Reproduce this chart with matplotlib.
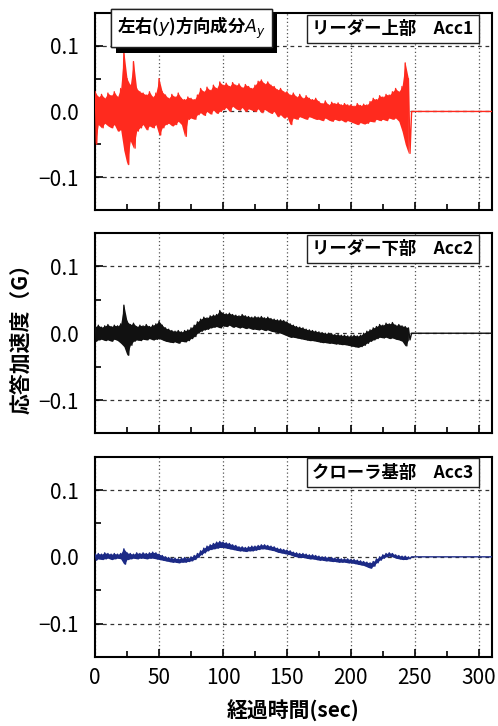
import numpy as np
import matplotlib
matplotlib.use('Agg')
import matplotlib.pyplot as plt
import matplotlib.patheffects as pe

plt.rcParams['font.family'] = ['Noto Sans CJK JP', 'DejaVu Sans']
plt.rcParams['mathtext.fontset'] = 'dejavusans'

# sampling grid (sec) of the envelope readings, 2.5 s steps from 0 to 245
t = np.arange(0, 245.1, 2.5)
tail_t = [247.5, 310]
tail_v = [0.0, 0.0]

# Acc1 (リーダー上部): upper / lower envelope
acc1_hi = [0.03, 0.022, 0.026, 0.02, 0.028, 0.024, 0.03, 0.022, 0.035, 0.091,
           0.05, 0.04, 0.076, 0.035, 0.03, 0.028, 0.025, 0.03, 0.022, 0.028,
           0.05, 0.03, 0.025, 0.02, 0.026, 0.022, 0.028, 0.02, 0.018, 0.022,
           0.02, 0.018, 0.025, 0.035, 0.03, 0.037, 0.032, 0.04, 0.035, 0.045,
           0.04, 0.043, 0.038, 0.044, 0.04, 0.042, 0.036, 0.041, 0.038, 0.035,
           0.04, 0.046, 0.048, 0.042, 0.045, 0.04, 0.038, 0.033, 0.035, 0.03,
           0.03, 0.025, 0.028, 0.022, 0.026, 0.02, 0.024, 0.02, 0.018, 0.02,
           0.015, 0.012, 0.016, 0.01, 0.014, 0.012, 0.013, 0.01, 0.012, 0.01,
           0.01, 0.008, 0.012, 0.009, 0.011, 0.01, 0.015, 0.02, 0.018, 0.024,
           0.022, 0.026, 0.025, 0.03, 0.035, 0.03, 0.038, 0.074, 0.05]
acc1_lo = [-0.05, -0.02, -0.025, -0.018, -0.022, -0.025, -0.02, -0.03, -0.028, -0.06,
           -0.081, -0.045, -0.056, -0.03, -0.025, -0.02, -0.028, -0.022, -0.025, -0.02,
           -0.036, -0.025, -0.02, -0.018, -0.022, -0.02, -0.015, -0.02, -0.038, -0.012,
           -0.01, -0.012, -0.005, -0.002, -0.006, 0.0, -0.004, 0.002, -0.003, 0.0,
           0.003, 0.006, 0.0, 0.008, 0.004, 0.002, 0.006, 0.0, 0.004, 0.002,
           0.0, 0.004, -0.002, 0.003, 0.0, -0.003, 0.0, -0.008, -0.005, -0.01,
           -0.008, -0.02, -0.01, -0.012, -0.008, -0.01, -0.012, -0.008, -0.01, -0.012,
           -0.012, -0.014, -0.01, -0.013, -0.015, -0.012, -0.014, -0.013, -0.016, -0.014,
           -0.016, -0.018, -0.02, -0.017, -0.019, -0.018, -0.015, -0.016, -0.012, -0.014,
           -0.012, -0.014, -0.01, -0.012, -0.01, -0.015, -0.03, -0.05, -0.064]

# Acc2 (リーダー下部)
acc2_hi = [0.01, 0.012, 0.009, 0.011, 0.013, 0.01, 0.012, 0.011, 0.014, 0.042,
           0.018, 0.013, 0.015, 0.01, 0.012, 0.011, 0.013, 0.01, 0.012, 0.014,
           0.018, 0.012, 0.008, 0.006, 0.004, 0.003, 0.004, 0.002, 0.004, 0.005,
           0.008, 0.012, 0.017, 0.021, 0.024, 0.023, 0.026, 0.027, 0.028, 0.034,
           0.03, 0.029, 0.03, 0.028, 0.027, 0.026, 0.028, 0.026, 0.025, 0.024,
           0.025, 0.024, 0.025, 0.023, 0.024, 0.022, 0.021, 0.02, 0.02, 0.019,
           0.017, 0.014, 0.012, 0.01, 0.009, 0.008, 0.006, 0.005, 0.004, 0.003,
           0.002, 0.001, 0.0, 0.0, -0.001, -0.002, -0.002, -0.003, -0.003, -0.004,
           -0.004, -0.003, -0.004, -0.003, 0.0, 0.003, 0.005, 0.008, 0.01, 0.013,
           0.012, 0.015, 0.014, 0.016, 0.012, 0.013, 0.011, 0.01, 0.008]
acc2_lo = [-0.012, -0.01, -0.009, -0.011, -0.01, -0.012, -0.009, -0.011, -0.015, -0.02,
           -0.033, -0.018, -0.012, -0.01, -0.011, -0.009, -0.01, -0.008, -0.01, -0.009,
           -0.008, -0.01, -0.012, -0.013, -0.014, -0.013, -0.015, -0.012, -0.013, -0.011,
           -0.008, -0.005, 0.0, 0.003, 0.005, 0.006, 0.008, 0.009, 0.01, 0.008,
           0.011, 0.01, 0.012, 0.009, 0.01, 0.008, 0.009, 0.007, 0.008, 0.006,
           0.006, 0.005, 0.006, 0.004, 0.005, 0.003, 0.002, 0.001, 0.0, -0.002,
           -0.004, -0.006, -0.006, -0.007, -0.008, -0.009, -0.01, -0.011, -0.011, -0.012,
           -0.013, -0.014, -0.014, -0.015, -0.015, -0.016, -0.016, -0.017, -0.017, -0.018,
           -0.019, -0.02, -0.021, -0.02, -0.018, -0.015, -0.012, -0.01, -0.008, -0.006,
           -0.007, -0.006, -0.008, -0.007, -0.009, -0.01, -0.012, -0.019, -0.01]

# Acc3 (クローラ基部)
acc3_hi = [0.004, 0.005, 0.004, 0.006, 0.005, 0.004, 0.005, 0.004, 0.005, 0.012,
           0.006, 0.005, 0.004, 0.006, 0.005, 0.006, 0.005, 0.006, 0.007, 0.006,
           0.004, 0.002, 0.0, -0.001, -0.002, -0.002, -0.003, -0.002, -0.001, -0.002,
           0.0, 0.002, 0.005, 0.009, 0.013, 0.016, 0.018, 0.02, 0.022, 0.023,
           0.022, 0.021, 0.02, 0.018, 0.017, 0.015, 0.015, 0.014, 0.015, 0.016,
           0.016, 0.017, 0.018, 0.018, 0.017, 0.016, 0.015, 0.013, 0.012, 0.011,
           0.01, 0.009, 0.007, 0.006, 0.005, 0.005, 0.004, 0.003, 0.003, 0.002,
           0.001, 0.0, 0.0, -0.001, -0.001, -0.002, -0.002, -0.003, -0.003, -0.003,
           -0.004, -0.004, -0.005, -0.006, -0.007, -0.008, -0.009, -0.007, -0.003, 0.0,
           0.003, 0.005, 0.006, 0.005, 0.003, 0.002, 0.001, 0.001, 0.0]
acc3_lo = [-0.005, -0.003, -0.004, -0.003, -0.002, -0.004, -0.003, -0.002, -0.003, -0.011,
           -0.004, -0.003, -0.002, -0.003, -0.002, -0.002, -0.003, -0.002, -0.002, -0.003,
           -0.004, -0.005, -0.006, -0.007, -0.008, -0.008, -0.009, -0.008, -0.008, -0.007,
           -0.006, -0.004, -0.001, 0.003, 0.006, 0.009, 0.011, 0.012, 0.013, 0.014,
           0.014, 0.013, 0.012, 0.011, 0.01, 0.009, 0.009, 0.008, 0.009, 0.009,
           0.01, 0.011, 0.012, 0.012, 0.011, 0.01, 0.009, 0.007, 0.006, 0.005,
           0.004, 0.003, 0.001, 0.0, -0.001, -0.001, -0.002, -0.003, -0.003, -0.004,
           -0.005, -0.005, -0.006, -0.006, -0.007, -0.007, -0.008, -0.008, -0.008, -0.009,
           -0.009, -0.01, -0.011, -0.012, -0.013, -0.015, -0.017, -0.014, -0.009, -0.005,
           -0.002, 0.0, 0.001, 0.0, -0.002, -0.003, -0.004, -0.004, -0.003]

labels = ['リーダー上部　Acc1', 'リーダー下部　Acc2', 'クローラ基部　Acc3']
colors = ['#ff2a1e', '#111111', '#1c2a86']
series = [(acc1_hi, acc1_lo), (acc2_hi, acc2_lo), (acc3_hi, acc3_lo)]

fig = plt.figure(figsize=(4.98, 7.26), dpi=100)
rects = [[0.191, 0.711, 0.796, 0.271],
         [0.191, 0.403, 0.796, 0.276],
         [0.191, 0.095, 0.796, 0.276]]

for k in range(3):
    ax = fig.add_axes(rects[k])
    hi, lo = series[k]
    xs = np.empty(2 * len(t))
    ys = np.empty(2 * len(t))
    xs[0::2] = t
    xs[1::2] = t + 1.25
    ys[0::2] = hi
    ys[1::2] = lo
    xs = np.concatenate([xs, tail_t])
    ys = np.concatenate([ys, tail_v])
    # solid band between the envelopes, jagged trace on top of it
    ax.fill_between(t, lo, hi, color=colors[k], lw=0, zorder=3)
    ax.plot(xs, ys, color=colors[k], lw=1.0, zorder=3)

    ax.set_xlim(0, 310)
    ax.set_ylim(-0.15, 0.15)
    ax.set_xticks([0, 50, 100, 150, 200, 250, 300])
    ax.set_xticks([25, 75, 125, 175, 225, 275], minor=True)
    ax.set_yticks([-0.1, 0.0, 0.1])
    ax.set_yticks([-0.05, 0.05], minor=True)
    ax.set_yticklabels(['\u22120.1', '0.0', '0.1'])
    ax.tick_params(which='both', direction='in', top=False, right=False,
                   labelsize=15, width=1.2)
    ax.tick_params(axis='x', pad=7)
    ax.tick_params(axis='y', pad=12)
    ax.tick_params(which='major', length=6)
    ax.tick_params(which='minor', length=4)
    if k < 2:
        ax.set_xticklabels([])
    for s in ax.spines.values():
        s.set_linewidth(1.5)
    ax.xaxis.grid(True, linestyle=(0, (1, 2)), color='#555555', lw=0.9, zorder=1)
    ax.yaxis.grid(True, linestyle=(0, (3, 3)), color='#333333', lw=0.9, zorder=1)
    ax.set_axisbelow(True)

    ax.text(0.955, 0.92, labels[k], transform=ax.transAxes, ha='right', va='center',
            fontsize=12.5, fontweight='bold',
            bbox=dict(boxstyle='square,pad=0.3', fc='white', ec='#222222', lw=1.0),
            zorder=5)

    if k == 0:
        tx = ax.text(0.055, 0.925, '左右($y$)方向成分$A_y$', transform=ax.transAxes,
                     ha='left', va='center', fontsize=12.5, fontweight='bold',
                     bbox=dict(boxstyle='square,pad=0.35', fc='white', ec='#222222', lw=1.0),
                     zorder=6)
        tx.get_bbox_patch().set_path_effects(
            [pe.withSimplePatchShadow(offset=(4, -4), shadow_rgbFace='black', alpha=1.0),
             pe.Normal()])
    if k == 2:
        ax.set_xlabel('経過時間(sec)', fontsize=15, fontweight='bold', labelpad=8)
    if k == 1:
        ax.set_ylabel('応答加速度（G）', fontsize=15, fontweight='bold', labelpad=5)

fig.savefig('out.png', dpi=100)
